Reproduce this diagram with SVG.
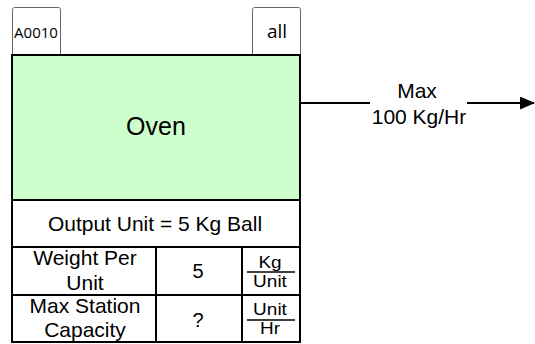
<svg xmlns="http://www.w3.org/2000/svg" width="535" height="344" viewBox="0 0 535 344">
  <style>
    .tab { fill: #ffffff; stroke: #666666; stroke-width: 1; }
    .body { fill: #ccffcc; stroke: #000000; stroke-width: 2; }
    .cell { fill: #ffffff; stroke: #000000; stroke-width: 2; }
    .rule { stroke: #000000; stroke-width: 2; fill: none; }
    .frac { stroke: #000000; stroke-width: 1.5; }
    .ui { font-family: "Open Sans", "Liberation Sans", sans-serif; fill: #000000; text-anchor: middle; }
    .ar { font-family: "Liberation Sans", Arial, sans-serif; fill: #000000; text-anchor: middle; }
    .conn { stroke: #000000; stroke-width: 2; fill: none; }
  </style>
  <defs>
    <marker id="arrow" markerWidth="15" markerHeight="13" refX="14" refY="6.5" orient="auto" markerUnits="userSpaceOnUse" viewBox="0 0 15 13">
      <path d="M0,0 L15,6.5 L0,13 Z" fill="#000000"/>
    </marker>
  </defs>

  <!-- station identifier tab -->
  <g id="tab-id">
    <path class="tab" d="M12.5,55 V9.5 Q12.5,7.5 14.5,7.5 H58.5 Q60.5,7.5 60.5,9.5 V55"/>
    <text class="ui" x="36" y="38" font-size="15">A0010</text>
  </g>

  <!-- product scope tab -->
  <g id="tab-scope">
    <path class="tab" d="M252.5,55 V9.5 Q252.5,7.5 254.5,7.5 H298.5 Q300.5,7.5 300.5,9.5 V55"/>
    <text class="ui" x="277" y="38" font-size="19">all</text>
  </g>

  <!-- station body -->
  <g id="oven">
    <rect class="body" x="12" y="55" width="288" height="145"/>
    <text class="ar" x="156" y="135" font-size="25">Oven</text>
  </g>

  <!-- data table -->
  <g id="output-unit">
    <rect class="cell" x="12" y="200" width="288" height="47"/>
    <text class="ar" x="155" y="231" font-size="21">Output Unit = 5 Kg Ball</text>
  </g>

  <g id="weight-per-unit">
    <rect class="cell" x="12" y="247" width="288" height="48"/>
    <line class="rule" x1="156" y1="247" x2="156" y2="295"/>
    <line class="rule" x1="242" y1="247" x2="242" y2="295"/>
    <text class="ar" x="85" y="265" font-size="21">Weight Per</text>
    <text class="ar" x="85" y="290" font-size="21">Unit</text>
    <text class="ar" x="198" y="278" font-size="20">5</text>
    <text class="ar" transform="translate(270,268) scale(1,0.82)" font-size="19">Kg</text>
    <line class="frac" x1="247" y1="272" x2="295" y2="272"/>
    <text class="ar" transform="translate(270,287) scale(1,0.82)" font-size="19">Unit</text>
  </g>

  <g id="max-capacity">
    <rect class="cell" x="12" y="295" width="288" height="47"/>
    <line class="rule" x1="156" y1="295" x2="156" y2="342"/>
    <line class="rule" x1="242" y1="295" x2="242" y2="342"/>
    <text class="ar" x="85" y="313" font-size="21">Max Station</text>
    <text class="ar" x="85" y="337" font-size="21">Capacity</text>
    <text class="ar" x="198" y="327" font-size="20">?</text>
    <text class="ar" transform="translate(270,315) scale(1,0.82)" font-size="19">Unit</text>
    <line class="frac" x1="247" y1="320" x2="295" y2="320"/>
    <text class="ar" transform="translate(270,334) scale(1,0.82)" font-size="19">Hr</text>
  </g>

  <!-- output connector -->
  <g id="connectors">
    <line class="conn" x1="300" y1="103" x2="370" y2="103"/>
    <line class="conn" x1="467" y1="103" x2="534" y2="103" marker-end="url(#arrow)"/>
    <text class="ar" x="417" y="98" font-size="21">Max</text>
    <text class="ar" x="419" y="124" font-size="21">100 Kg/Hr</text>
  </g>
</svg>
